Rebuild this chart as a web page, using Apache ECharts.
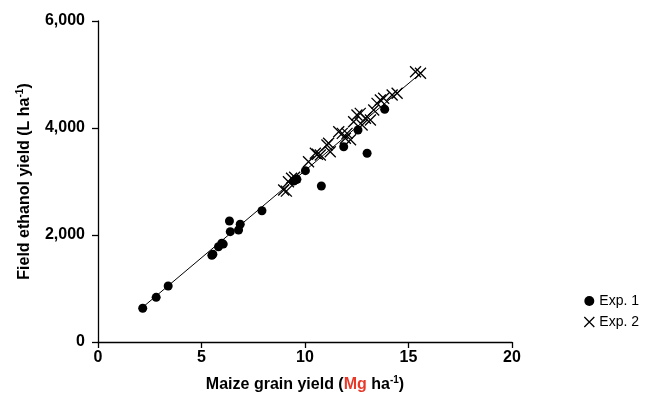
<!DOCTYPE html>
<html>
<head>
<meta charset="utf-8">
<script src="https://cdn.jsdelivr.net/npm/echarts@6/dist/echarts.min.js"></script>
<style>
  html, body { margin: 0; padding: 0; background: #fff; }
  #main { width: 646px; height: 402px; }
</style>
</head>
<body>
<div id="main"></div>
<script>
// Exp. 1 (dots): grain yield (Mg/ha), ethanol yield (L/ha)
var exp1X = [2.16, 2.81, 3.39, 5.5, 5.55, 5.82, 5.98, 6.05, 6.35, 6.39, 6.79, 6.87, 7.92,
  9.45, 9.55, 9.61, 10.02, 10.79, 11.87, 12.56, 13.0, 13.85];
var exp1Y = [630, 835, 1047, 1620, 1640, 1781, 1845, 1830, 2262, 2062, 2093, 2200, 2454,
  3010, 3030, 3040, 3202, 2916, 3650, 3963, 3527, 4350];

// Exp. 2 (crosses)
var exp2X = [8.97, 9.1, 9.2, 9.35, 9.5, 10.17, 10.5, 10.6, 10.74, 11.06, 11.14, 11.22,
  11.63, 11.8, 11.95, 12.03, 12.2, 12.35, 12.51, 12.67, 12.76, 12.92, 13.16, 13.32,
  13.48, 13.64, 13.8, 14.21, 14.45, 15.34, 15.58];
var exp2Y = [2841, 2820, 2996, 3060, 3080, 3370, 3527, 3510, 3495, 3682, 3714, 3557,
  3931, 3900, 3807, 3900, 3780, 4118, 4243, 4274, 4056, 4181, 4150, 4336,
  4461, 4523, 4555, 4617, 4648, 5052, 5022];

// fitted line ends
var lineX = [2.1, 15.7];
var lineY = [630, 5060];

var xTicks = [0, 5, 10, 15, 20];
var yTicks = [0, 2000, 4000, 6000];

function pairs(xs, ys) {
  return xs.map(function (x, i) { return [x, ys[i]]; });
}

var font = 'Liberation Sans, Arial, sans-serif';
var crossPath = 'path://M0,0L10,10M10,0L0,10';

var chart = echarts.init(document.getElementById('main'));
chart.setOption({
  animation: false,
  grid: { left: 98, right: 134, top: 21, bottom: 60 },
  xAxis: {
    type: 'value',
    min: xTicks[0], max: xTicks[xTicks.length - 1], interval: 5,
    splitLine: { show: false },
    axisLine: { lineStyle: { color: '#000', width: 1.3 } },
    axisTick: { length: 6, lineStyle: { color: '#000', width: 1.3 } },
    axisLabel: { color: '#000', fontWeight: 'bold', fontSize: 16, fontFamily: font, margin: 8 },
    name: '{b|Maize grain yield (}{r|Mg}{b| ha}{s|-1}{b|)}',
    nameLocation: 'middle',
    nameGap: 33,
    nameTextStyle: {
      rich: {
        b: { fontWeight: 'bold', fontSize: 16, color: '#000', fontFamily: font },
        r: { fontWeight: 'bold', fontSize: 16, color: '#e8382a', fontFamily: font },
        s: { fontWeight: 'bold', fontSize: 10, color: '#000', fontFamily: font, verticalAlign: 'top', padding: [0, 0, 9, 0] }
      }
    }
  },
  yAxis: {
    type: 'value',
    min: yTicks[0], max: yTicks[yTicks.length - 1], interval: 2000,
    splitLine: { show: false },
    axisLine: { show: true, lineStyle: { color: '#000', width: 1.3 } },
    axisTick: { show: true, length: 6, lineStyle: { color: '#000', width: 1.3 } },
    axisLabel: {
      color: '#000', fontWeight: 'bold', fontSize: 16, fontFamily: font, margin: 13,
      formatter: function (v) { return v.toLocaleString('en-US'); }
    },
    name: '{b|Field ethanol yield (L ha}{s|-1}{b|)}',
    nameLocation: 'middle',
    nameGap: 64,
    nameTextStyle: {
      rich: {
        b: { fontWeight: 'bold', fontSize: 16, color: '#000', fontFamily: font },
        s: { fontWeight: 'bold', fontSize: 10, color: '#000', fontFamily: font, verticalAlign: 'top', padding: [0, 0, 9, 0] }
      }
    }
  },
  legend: {
    orient: 'vertical',
    right: 2,
    top: 289,
    itemGap: 7,
    itemWidth: 10,
    itemHeight: 10,
    textStyle: { color: '#000', fontSize: 14, fontFamily: font },
    data: [
      { name: 'Exp. 1', icon: 'circle' },
      { name: 'Exp. 2', icon: crossPath, itemStyle: { color: 'transparent', borderColor: '#000', borderWidth: 1.3 } }
    ]
  },
  series: [
    {
      type: 'line',
      data: pairs(lineX, lineY),
      symbol: 'none',
      lineStyle: { color: '#000', width: 1 },
      silent: true,
      z: 1
    },
    {
      name: 'Exp. 1',
      type: 'scatter',
      data: pairs(exp1X, exp1Y),
      symbol: 'circle',
      symbolSize: 9,
      itemStyle: { color: '#000', opacity: 1 },
      z: 3
    },
    {
      name: 'Exp. 2',
      type: 'scatter',
      data: pairs(exp2X, exp2Y),
      symbol: crossPath,
      symbolSize: 11,
      itemStyle: { color: 'transparent', borderColor: '#000', borderWidth: 1.3, opacity: 1 },
      z: 2
    }
  ]
});
</script>
</body>
</html>
